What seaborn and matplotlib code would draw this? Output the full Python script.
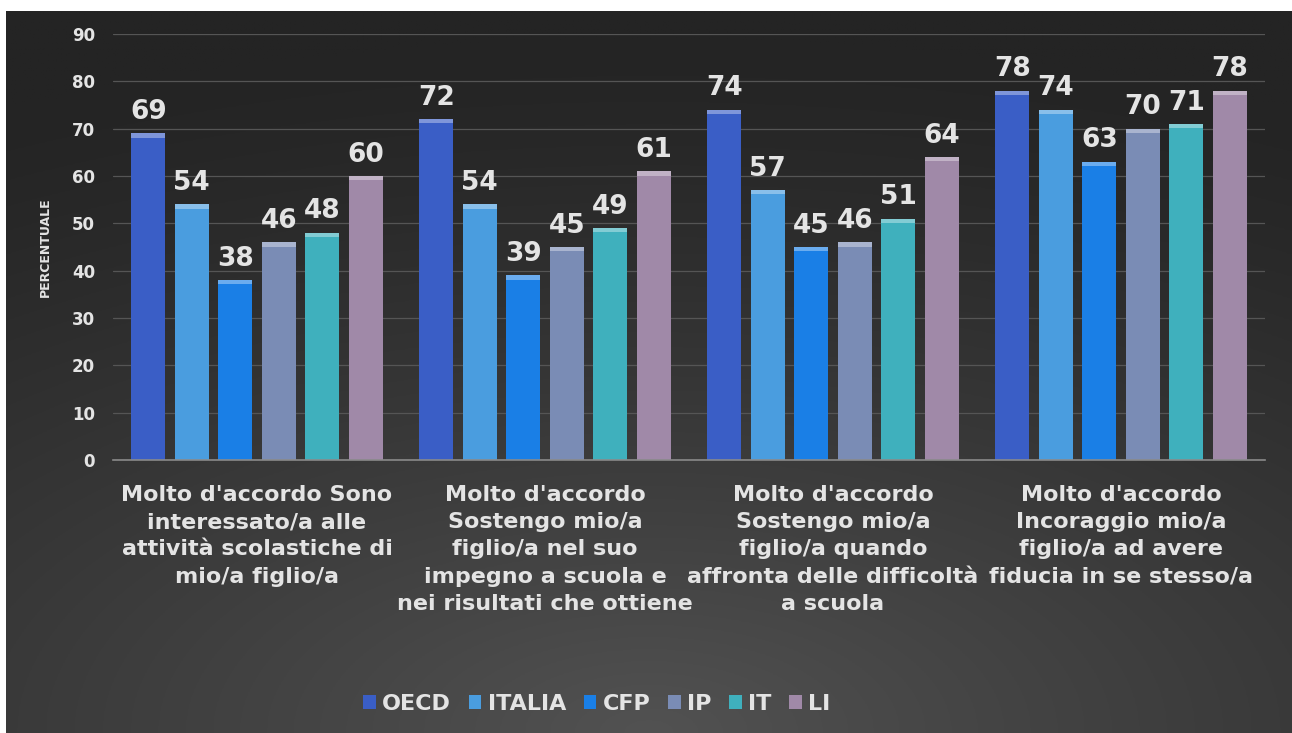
import numpy as np
import pandas as pd
import matplotlib
matplotlib.use("Agg")
import matplotlib.pyplot as plt
import seaborn as sns
from matplotlib.patches import Rectangle

#=============================================================================
# Data
#=============================================================================
categories = [
    "Molto d'accordo Sono\ninteressato/a alle\nattività scolastiche di\nmio/a figlio/a",
    "Molto d'accordo\nSostengo mio/a\nfiglio/a nel suo\nimpegno a scuola e\nnei risultati che ottiene",
    "Molto d'accordo\nSostengo mio/a\nfiglio/a quando\naffronta delle difficoltà\na scuola",
    "Molto d'accordo\nIncoraggio mio/a\nfiglio/a ad avere\nfiducia in se stesso/a",
]
series = ["OECD", "ITALIA", "CFP", "IP", "IT", "LI"]
oecd = [69, 72, 74, 78]
italia = [54, 54, 57, 74]
cfp = [38, 39, 45, 63]
ip = [46, 45, 46, 70]
it = [48, 49, 51, 71]
li = [60, 61, 64, 78]
colors = ["#3a5ec6", "#4a9ddf", "#1a7fe6", "#7a8cb5", "#3fb0bd", "#a089a8"]

values = [oecd, italia, cfp, ip, it, li]
rows = []
for s, vals in zip(series, values):
    for c, v in zip(categories, vals):
        rows.append({"categoria": c, "serie": s, "valore": v})
df = pd.DataFrame(rows)

#=============================================================================
# Plot
#=============================================================================
sns.set_style("white")
plt.rcParams["font.family"] = ["DejaVu Sans"]
txt_col = "#e4e4e4"

fig = plt.figure(figsize=(12.92, 7.33), dpi=100, facecolor="white")

# dark background with soft radial gradient
bg = fig.add_axes([6 / 1292, 0, 1 - 6 / 1292, 1 - 11 / 733])
yy, xx = np.mgrid[0:1:300j, 0:1:500j]
dist = np.sqrt(((xx - 0.5) * 1.1) ** 2 + ((yy - 1.0) * 1.3) ** 2)
shade = np.clip(1 - dist / 1.25, 0, 1)
top = np.array([0x24, 0x24, 0x24]) / 255
bot = np.array([0x52, 0x52, 0x52]) / 255
img = top + (bot - top) * shade[..., None] ** 1.3
bg.imshow(img, aspect="auto", extent=[0, 1, 0, 1], origin="upper")
bg.set_axis_off()

ax = fig.add_axes([113 / 1292, 1 - 460 / 733, 1152 / 1292, 426 / 733])
ax.patch.set_alpha(0)

sns.barplot(data=df, x="categoria", y="valore", hue="serie",
            palette=colors, width=0.906, ax=ax, legend=False,
            saturation=1)

# narrower bars with gaps + bevel cap
for container in ax.containers:
    for p in container:
        w = p.get_width()
        cx = p.get_x() + w / 2
        nw = w * 0.78
        p.set_x(cx - nw / 2)
        p.set_width(nw)
        p.set_edgecolor("none")
        fc = np.array(p.get_facecolor()[:3])
        cap = np.clip(fc + (1 - fc) * 0.35, 0, 1)
        ax.add_patch(Rectangle((cx - nw / 2, p.get_height() - 0.9), nw, 0.9,
                               facecolor=cap, edgecolor="none", zorder=3))
    ax.bar_label(container, padding=6, fontsize=19, fontweight="bold",
                 color=txt_col)

ax.set_ylim(0, 90)
ax.set_xlim(-0.5, 3.5)
ax.set_yticks(range(0, 91, 10))
ax.grid(axis="y", color="#555555", linewidth=0.9)
ax.set_axisbelow(True)
for side in ["top", "right", "left"]:
    ax.spines[side].set_visible(False)
ax.spines["bottom"].set_color("#8a8a8a")
ax.spines["bottom"].set_linewidth(1.2)

ax.tick_params(axis="y", length=0, pad=13, labelsize=12, labelcolor=txt_col)
ax.tick_params(axis="x", length=0, pad=18, labelsize=16, labelcolor=txt_col)
for lab in ax.get_yticklabels() + ax.get_xticklabels():
    lab.set_fontweight("bold")
for lab in ax.get_xticklabels():
    lab.set_linespacing(1.45)
    lab.set_verticalalignment("top")

ax.set_xlabel("")
ax.set_ylabel("PERCENTUALE", fontsize=9, fontweight="bold", color=txt_col,
              labelpad=14)

handles = [Rectangle((0, 0), 1, 1, facecolor=c, edgecolor="none") for c in colors]
leg = fig.legend(handles, series, loc="center", bbox_to_anchor=(0.462, 1 - 704 / 733),
                 ncol=6, frameon=False, handlelength=0.55, handleheight=0.55,
                 handletextpad=0.3, columnspacing=0.8,
                 prop={"size": 16, "weight": "bold"})
for t in leg.get_texts():
    t.set_color(txt_col)

fig.savefig("out.png", dpi=100, facecolor="white")
